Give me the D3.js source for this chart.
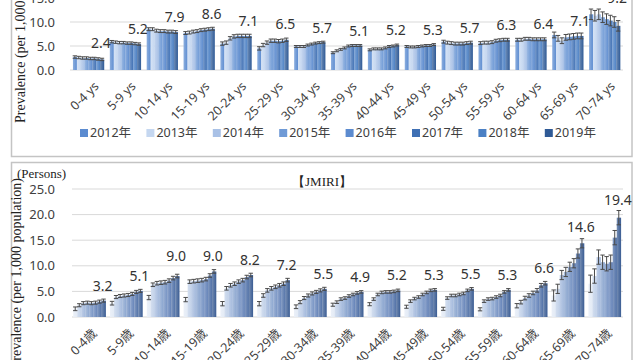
<!DOCTYPE html>
<html><head><meta charset="utf-8">
<script src="https://cdn.jsdelivr.net/npm/d3@7"></script>
<style>body{margin:0;background:#fff}svg{display:block}
.serif{font-family:"Liberation Serif","Times New Roman",serif}
.sans{font-family:"Noto Sans","Noto Sans CJK JP",sans-serif}</style>
</head><body><svg id="c" width="640" height="360"></svg>
<script>
const years = ["2012年","2013年","2014年","2015年","2016年","2017年","2018年","2019年"];
const catsTop = ["0-4 ys","5-9 ys","10-14 ys","15-19 ys","20-24 ys","25-29 ys","30-34 ys","35-39 ys","40-44 ys","45-49 ys","50-54 ys","55-59 ys","60-64 ys","65-69 ys","70-74 ys"];
const catsBottom = ["0-4歳","5-9歳","10-14歳","15-19歳","20-24歳","25-29歳","30-34歳","35-39歳","40-44歳","45-49歳","50-54歳","55-59歳","60-64歳","65-69歳","70-74歳"];

const topValues = [
  [2.7,2.6,2.5,2.5,2.4,2.4,2.3,2.2],
  [5.9,5.8,5.7,5.7,5.6,5.6,5.5,5.4],
  [8.5,8.5,8.2,8.1,8.1,8.0,8.0,7.9],
  [7.7,7.8,8.0,8.1,8.3,8.4,8.5,8.6],
  [5.5,5.7,6.6,7.0,7.1,7.1,7.1,7.1],
  [4.5,5.2,5.7,6.1,6.1,6.0,6.1,6.3],
  [4.9,4.9,4.9,5.2,5.4,5.6,5.7,5.8],
  [3.6,4.0,4.3,4.6,5.0,5.1,5.1,5.1],
  [4.2,4.4,4.4,4.4,4.6,4.9,5.0,5.2],
  [4.9,4.8,4.8,4.9,5.0,5.1,5.1,5.3],
  [5.9,5.7,5.6,5.5,5.5,5.5,5.6,5.7],
  [5.6,5.7,5.7,5.8,6.1,6.2,6.3,6.3],
  [6.3,6.3,6.5,6.5,6.4,6.4,6.4,6.4],
  [7.3,6.6,6.1,6.8,6.9,7.0,7.1,7.1],
  [11.6,11.3,11.6,11.0,10.6,10.3,10.0,9.2]
];
const topLabels = [2.4,5.2,7.9,8.6,7.1,6.5,5.7,5.1,5.2,5.3,5.7,6.3,6.4,7.1,9.2];
const topErrors = [0.25,0.25,0.3,0.3,0.35,0.35,0.2,0.2,0.2,0.2,0.3,0.3,0.3,0.6,1.1];
const topTicks = [0,5,10,15];

const bottomValues = [
  [1.6,2.3,2.7,2.8,2.7,2.8,3.0,3.2],
  [2.7,3.9,4.1,4.2,4.3,4.5,4.9,5.1],
  [3.8,6.3,6.6,6.7,6.8,7.1,7.6,8.0],
  [3.4,6.9,7.0,7.1,7.2,7.4,8.1,8.9],
  [2.6,5.6,6.2,6.5,6.9,7.2,7.8,8.2],
  [2.6,4.2,5.2,5.6,5.9,6.2,6.5,7.2],
  [2.0,2.9,3.7,4.2,4.6,4.9,5.2,5.5],
  [2.4,2.9,3.5,3.7,4.1,4.4,4.7,4.9],
  [2.5,3.5,4.4,4.8,4.9,4.9,5.0,5.2],
  [2.0,3.1,3.6,3.9,4.4,4.8,5.2,5.3],
  [1.6,3.7,4.2,4.2,4.4,4.6,5.2,5.5],
  [1.5,3.1,3.5,3.6,3.9,4.2,4.9,5.3],
  [2.2,2.9,3.7,4.2,4.7,5.2,6.2,6.6],
  [4.2,5.5,8.2,8.8,9.8,10.5,12.4,14.4],
  [6.5,8.0,11.7,10.7,10.4,10.7,15.5,19.4]
];
const bottomLabels = [3.2,5.1,9.0,9.0,8.2,7.2,5.5,4.9,5.2,5.3,5.5,5.3,6.6,14.6,19.4];
const bottomErrors = [0.3,0.3,0.35,0.35,0.35,0.35,0.3,0.25,0.25,0.25,0.25,0.25,0.35,0.9,1.4];
const bottomTicks = [0,5,10,15,20,25];

const topColors = ["#5b8bd0","#c5d7f0","#a9c1e6","#6f9ad6","#5c8bcf","#3f70b4","#4b80c4","#2f5a96"];
const bottomColors = ["#e2eaf5","#c0d0e8","#a3b9dc","#8aa5cf","#7592c3","#6281b7","#4e6fa6","#3a5c93"];

const svg = d3.select("#c");
const defs = svg.append("defs");

// frames
svg.append("rect").attr("x",11.5).attr("y",-5).attr("width",620.5).attr("height",161.5)
  .attr("fill","none").attr("stroke","#c4c4c4").attr("stroke-width",1.5);
svg.append("rect").attr("x",11.5).attr("y",162.5).attr("width",620.5).attr("height",210)
  .attr("fill","none").attr("stroke","#c4c4c4").attr("stroke-width",1.5);

function panel(o){
  const g = svg.append("g");
  const x = d3.scaleBand().domain(o.cats).range(o.xr).paddingInner(o.pi).paddingOuter(o.po);
  const xi = d3.scaleBand().domain(years).range([0,x.bandwidth()]);
  const y = d3.scaleLinear().domain([0,o.ticks[o.ticks.length-1]]).range(o.yr);

  o.colors.forEach((c,i)=>{
    const gr = defs.append("linearGradient").attr("id",o.id+"g"+i).attr("x1",0).attr("x2",1).attr("y1",0).attr("y2",0);
    gr.append("stop").attr("offset","0%").attr("stop-color",d3.interpolateRgb(c,"#ffffff")(0.3));
    gr.append("stop").attr("offset","100%").attr("stop-color",c);
  });

  g.selectAll(".grid").data(o.ticks).join("line")
    .attr("x1",o.gx[0]).attr("x2",o.gx[1]).attr("y1",d=>y(d)).attr("y2",d=>y(d))
    .attr("stroke","#d9d9d9").attr("stroke-width",1);
  g.selectAll(".tl").data(o.ticks).join("text").attr("class","sans")
    .attr("x",55).attr("y",d=>y(d)).attr("dy","0.35em").attr("text-anchor","end")
    .attr("font-size",13).attr("fill","#404040")
    .text(d=>d3.format(".1f")(d));

  const grp = g.selectAll(".grp").data(o.values).join("g")
    .attr("transform",(d,i)=>`translate(${x(o.cats[i])},0)`);
  grp.selectAll("rect").data(d=>d).join("rect")
    .attr("x",(d,j)=>xi(years[j])).attr("width",xi.bandwidth()+0.3)
    .attr("y",d=>y(d)).attr("height",d=>y(0)-y(d))
    .attr("fill",(d,j)=>`url(#${o.id}g${j})`);
  grp.each(function(vals,i){
    const e = o.errors[i];
    const gg = d3.select(this);
    vals.forEach((v,j)=>{
      const cx = xi(years[j]) + xi.bandwidth()/2;
      const ee = j===0 && o.firstBig ? e*1.2 : e;
      gg.append("line").attr("x1",cx).attr("x2",cx).attr("y1",y(v+ee)).attr("y2",y(Math.max(0,v-ee)))
        .attr("stroke","#4a4a4a").attr("stroke-width",1);
      [v+ee, v-ee].forEach(t=>{
        gg.append("line").attr("x1",cx-2.2).attr("x2",cx+2.2).attr("y1",y(t)).attr("y2",y(t))
          .attr("stroke","#4a4a4a").attr("stroke-width",1);
      });
    });
  });

  g.selectAll(".vl").data(o.labels).join("text").attr("class","sans")
    .attr("x",(d,i)=>x(o.cats[i]) + xi(years[7]) + xi.bandwidth()/2 - 1)
    .attr("y",(d,i)=>Math.min(y(d)-o.lo, y(d3.max(o.values[i])+o.errors[i])-o.lo2))
    .attr("text-anchor","middle")
    .attr("font-size",14).attr("fill","#333")
    .text(d=>d3.format(".1f")(d));

  g.selectAll(".xl").data(o.cats).join("text").attr("class","sans")
    .attr("transform",d=>`translate(${x(d)+x.bandwidth()/2+o.xo},${o.xy}) rotate(-45)`)
    .attr("text-anchor","end").attr("dy","0.35em")
    .attr("font-size",12.5).attr("fill","#404040")
    .text(d=>d);
  return {x,y};
}

panel({id:"t",cats:catsTop,values:topValues,labels:topLabels,errors:topErrors,ticks:topTicks,
  colors:topColors,xr:[70,623],pi:0.16,po:0.08,yr:[70,-2],gx:[70,623],lo:10,lo2:6,xo:8,xy:84});
panel({id:"b",cats:catsBottom,values:bottomValues,labels:bottomLabels,errors:bottomErrors,ticks:bottomTicks,
  colors:bottomColors,xr:[71,623],pi:0.12,po:0.06,yr:[317,189],gx:[72,623],lo:10,lo2:6,xo:5,xy:331,firstBig:true});

// y-axis titles
svg.append("text").attr("class","serif").attr("transform","translate(20,123) rotate(-90)").attr("dy","0.35em")
  .attr("text-anchor","start").attr("font-size",14).attr("fill","#222")
  .text("Prevalence (per 1,000 population)");
svg.append("text").attr("class","serif").attr("transform","translate(16,178) rotate(-90)").attr("dy","0.35em")
  .attr("text-anchor","end").attr("font-size",14).attr("fill","#222")
  .text("Prevalence (per 1,000 population)");

// legend (top)
const lg = svg.append("g").selectAll("g").data(years).join("g")
  .attr("transform",(d,i)=>`translate(${80+i*66.4},133)`);
lg.append("rect").attr("x",0).attr("y",-4).attr("width",8).attr("height",8).attr("fill",(d,i)=>topColors[i]);
lg.append("text").attr("class","sans").attr("x",10).attr("dy","0.35em").attr("font-size",12.5)
  .attr("fill","#404040").text(d=>d);

// bottom panel headers
svg.append("text").attr("class","serif").attr("x",17).attr("y",173).attr("dy","0.35em")
  .attr("font-size",13).attr("fill","#222").text("(Persons)");
svg.append("text").attr("class","serif").attr("x",322).attr("y",181).attr("dy","0.35em").attr("text-anchor","middle")
  .attr("font-size",13).attr("fill","#222").text("【JMIRI】");
</script></body></html>
